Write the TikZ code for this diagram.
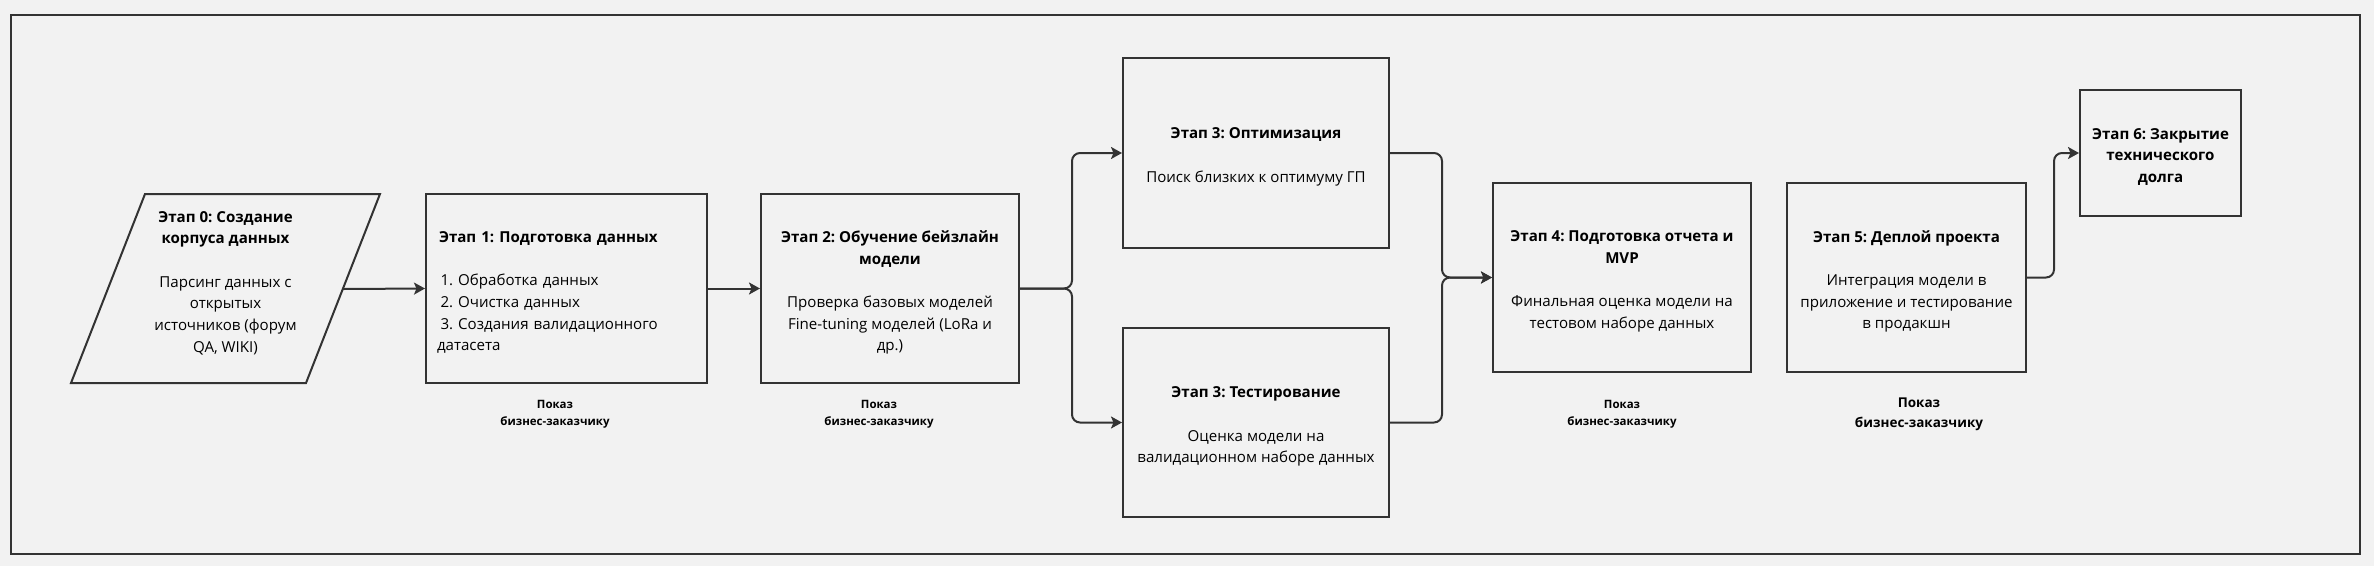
\documentclass[tikz,border=0pt]{standalone}
\usepackage{fontspec}
\setmainfont{Open Sans}
\frenchspacing
\usetikzlibrary{arrows.meta}
\definecolor{bgc}{HTML}{F2F2F2}
\definecolor{ink}{HTML}{333333}
\begin{document}
\begin{tikzpicture}[x=1pt,y=-1pt,
  frame/.style={draw=ink,line width=2pt,rectangle,inner sep=0pt},
  txt/.style={inner sep=0pt,align=center,yshift=-4pt,
    font=\frenchspacing\fontsize{15.1}{21.7}\selectfont,text=black},
  arr/.style={draw=ink,line width=2pt,rounded corners=8pt,
    -{Stealth[length=11pt,width=12pt,inset=2.5pt]}},
  note/.style={align=center,font=\frenchspacing\bfseries\fontsize{11.5}{17}\selectfont,text=black},
  bignote/.style={align=center,font=\frenchspacing\bfseries\fontsize{13.5}{20}\selectfont,text=black}]
\fill[bgc] (0,0) rectangle (2374,566);
\useasboundingbox (0,0) rectangle (2374,566);
\draw[ink,line width=2pt] (10.5,14.5) rectangle (2360,554);
% stage 0 parallelogram
\coordinate (p0tl) at (145,194);
\coordinate (p0tr) at (380,194);
\coordinate (p0br) at (306,383);
\coordinate (p0bl) at (71,383);
\coordinate (p0e) at (343,289);
\draw[ink,line width=2pt,fill=bgc] (p0tl) -- (p0tr) -- (p0br) -- (p0bl) -- cycle;
\node[txt,yshift=1pt] (p0) at (225.5,280) {\textbf{Этап 0: Создание}\\\textbf{корпуса данных}\\[21.7pt]
Парсинг данных с\\открытых\\источников (форум\\QA, WIKI)};
% stage 1
\node[frame,minimum width=281pt,minimum height=189pt] (b1) at (566.5,288.5) {};
\node[txt,align=left,text width=258pt] (t1) at ([xshift=1.5pt]b1.center)
{\textbf{Этап 1: Подготовка данных}\\[21.7pt]
\hspace{1.5pt}1. Обработка данных\\
\hspace{1.5pt}2. Очистка данных\\
\hspace{1.5pt}3. Создания валидационного\\
\hspace{-2pt}датасета};
% stage 2
\node[frame,minimum width=258pt,minimum height=189pt] (b2) at (890,288.5) {};
\node[txt] (t2) at (b2.center)
{\textbf{Этап 2: Обучение бейзлайн}\\\textbf{модели}\\[21.7pt]
Проверка базовых моделей\\Fine-tuning моделей (LoRa и\\др.)};
% stage 3a
\node[frame,minimum width=266pt,minimum height=190pt] (b3a) at (1256,153) {};
\node[txt] (t3a) at (b3a.center)
{\textbf{Этап 3: Оптимизация}\\[21.7pt]Поиск близких к оптимуму ГП};
% stage 3b
\node[frame,minimum width=266pt,minimum height=189pt] (b3b) at (1256,422.5) {};
\node[txt] (t3b) at (b3b.center)
{\textbf{Этап 3: Тестирование}\\[21.7pt]Оценка модели на\\валидационном наборе данных};
% stage 4
\node[frame,minimum width=258pt,minimum height=189pt] (b4) at (1622,277.5) {};
\node[txt] (t4) at (b4.center)
{\textbf{Этап 4: Подготовка отчета и}\\\textbf{MVP}\\[21.7pt]
Финальная оценка модели на\\тестовом наборе данных};
% stage 5
\node[frame,minimum width=239pt,minimum height=189pt] (b5) at (1906.5,277.5) {};
\node[txt] (t5) at (b5.center)
{\textbf{Этап 5: Деплой проекта}\\[21.7pt]
Интеграция модели в\\приложение и тестирование\\в продакшн};
% stage 6
\node[frame,minimum width=161pt,minimum height=126pt] (b6) at (2160.5,153) {};
\node[txt] (t6) at (b6.center)
{\textbf{Этап 6: Закрытие}\\\textbf{технического}\\\textbf{долга}};
% notes
\node[note] (n1) at (555,414) {Показ\\бизнес-заказчику};
\node[note] (n2) at (879,414) {Показ\\бизнес-заказчику};
\node[note] (n4) at (1622,414.5) {Показ\\бизнес-заказчику};
\node[bignote] (n5) at (1919,414.5) {Показ\\бизнес-заказчику};
% connectors
\draw[arr] (p0e) -- (b1.west);
\draw[arr] (b1.east) -- (b2.west);
\draw[arr] (b2.east) -- ++(52,0) |- (b3a.west);
\draw[arr] (b2.east) -- ++(52,0) |- (b3b.west);
\draw[arr] (b3a.east) -- ++(52,0) |- (b4.west);
\draw[arr] (b3b.east) -- ++(52,0) |- (b4.west);
\draw[arr] (b5.east) -- ++(27,0) |- (b6.west);
\end{tikzpicture}
\end{document}
